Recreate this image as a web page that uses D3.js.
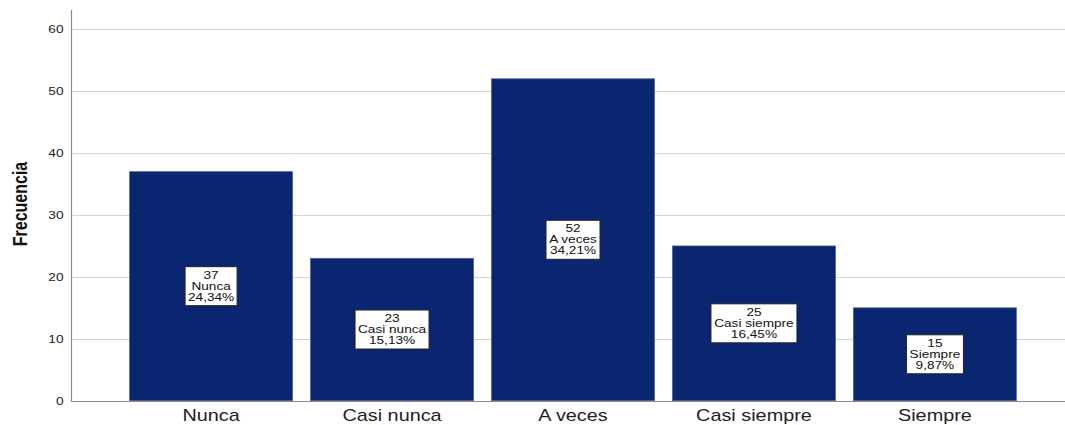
<!DOCTYPE html>
<html>
<head>
<meta charset="utf-8">
<script src="https://cdn.jsdelivr.net/npm/d3@7"></script>
<style>
html,body{margin:0;padding:0;background:#fff;}
svg{display:block;}
text{font-family:Arial,"Liberation Sans",sans-serif;}
</style>
</head>
<body>
<script>
const categories = ["Nunca", "Casi nunca", "A veces", "Casi siempre", "Siempre"];
const frequencies = [37, 23, 52, 25, 15];
const percentLabels = ["24,34%", "15,13%", "34,21%", "16,45%", "9,87%"];
const yTicks = [0, 10, 20, 30, 40, 50, 60];
const yTitle = "Frecuencia";

const W = 1065, H = 425;
const SX = 1.24; // horizontal text stretch seen in the reference
const svg = d3.select("body").append("svg").attr("width", W).attr("height", H);

const x = d3.scaleBand().domain(categories).range([120.6, 1025.4]).paddingInner(0.1).paddingOuter(0.05);
const y = d3.scaleLinear().domain([0, 60]).range([400.7, 29.3]);
const axisX = 71, plotRight = 1065, axisTop = 10;

// gridlines
svg.append("g").selectAll("line").data(yTicks.filter(d => d > 0)).join("line")
  .attr("x1", axisX).attr("x2", plotRight)
  .attr("y1", d => Math.round(y(d)) + 0.5).attr("y2", d => Math.round(y(d)) + 0.5)
  .attr("stroke", "#d4d4d4").attr("stroke-width", 1);

// bars
svg.append("g").selectAll("rect").data(frequencies).join("rect")
  .attr("x", (d, i) => x(categories[i]))
  .attr("width", x.bandwidth())
  .attr("y", d => y(d))
  .attr("height", d => y(0) - y(d))
  .attr("fill", "#0b2670")
  .attr("stroke", "#4a5f99").attr("stroke-width", 0.8);

// baseline and y axis line
svg.append("line").attr("x1", axisX).attr("x2", plotRight)
  .attr("y1", Math.round(y(0)) + 0.5).attr("y2", Math.round(y(0)) + 0.5)
  .attr("stroke", "#8c8c8c").attr("stroke-width", 1.2);
svg.append("line").attr("x1", axisX + 0.5).attr("x2", axisX + 0.5)
  .attr("y1", axisTop).attr("y2", y(0) + 0.5)
  .attr("stroke", "#8c8c8c").attr("stroke-width", 1.2);

// y tick labels
svg.append("g").selectAll("text").data(yTicks).join("text")
  .attr("transform", d => `translate(63.5,${y(d)}) scale(${SX},1)`)
  .attr("text-anchor", "end").attr("dy", "0.35em")
  .attr("font-size", 11).attr("fill", "#222")
  .text(d => d);

// y title
svg.append("text")
  .attr("transform", `translate(27,204) scale(${SX},1) rotate(-90)`)
  .attr("text-anchor", "middle")
  .attr("font-weight", "bold").attr("font-size", 16).attr("fill", "#111")
  .text(yTitle);

// x labels
svg.append("g").selectAll("text").data(categories).join("text")
  .attr("transform", d => `translate(${x(d) + x.bandwidth() / 2},421) scale(${SX},1)`)
  .attr("text-anchor", "middle").attr("font-size", 16).attr("fill", "#222")
  .text(d => d);

// value label boxes
const boxes = svg.append("g").selectAll("g").data(frequencies).join("g")
  .attr("transform", (d, i) => `translate(${x(categories[i]) + x.bandwidth() / 2},${y(d / 2)})`);
boxes.each(function (d, i) {
  const g = d3.select(this);
  const rect = g.append("rect");
  const lines = [String(d), categories[i], percentLabels[i]];
  const offs = [-7.5, 3.5, 14.5];
  let maxW = 0;
  lines.forEach((t, k) => {
    const tx = g.append("text")
      .attr("transform", `translate(0,${offs[k]}) scale(${SX},1)`)
      .attr("text-anchor", "middle").attr("font-size", 11).attr("fill", "#111")
      .text(t);
    maxW = Math.max(maxW, tx.node().getComputedTextLength() * SX);
  });
  const bw = Math.round(maxW + 6);
  rect.attr("x", -bw / 2).attr("y", -19.5).attr("width", bw).attr("height", 39)
    .attr("fill", "#fff").attr("stroke", "#222").attr("stroke-width", 1);
});
</script>
</body>
</html>
